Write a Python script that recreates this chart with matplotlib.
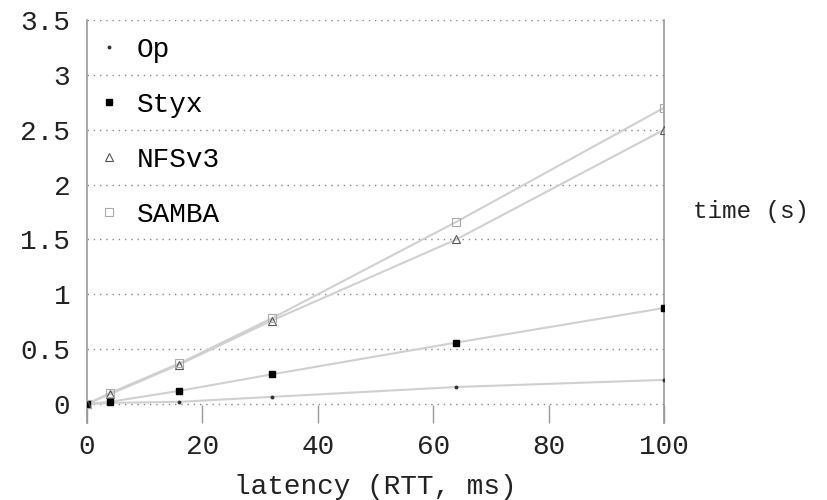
import matplotlib
matplotlib.use("Agg")
import matplotlib.pyplot as plt

plt.rcParams['font.family'] = ['Liberation Mono', 'DejaVu Sans Mono']

# latency values (RTT, ms) and measured times (s)
latency = [0, 4, 16, 32, 64, 100]
op = [0.0, 0.01, 0.02, 0.065, 0.155, 0.22]
styx = [0.0, 0.02, 0.12, 0.27, 0.56, 0.875]
nfsv3 = [0.0, 0.09, 0.36, 0.76, 1.50, 2.50]
samba = [0.0, 0.10, 0.37, 0.78, 1.66, 2.70]

yticks = [0, 0.5, 1, 1.5, 2, 2.5, 3, 3.5]
ytick_labels = ['0', '0.5', '1', '1.5', '2', '2.5', '3', '3.5']
xticks = [0, 20, 40, 60, 80, 100]

fig = plt.figure(figsize=(8.28, 5), dpi=100)
ax = fig.add_axes([0.105, 0.154, 0.697, 0.806])

# gray connecting lines
for ys in [op, styx, nfsv3, samba]:
    ax.plot(latency, ys, color='#d0d0d0', lw=1.5, zorder=2)

# markers
ax.plot(latency, op, ls='none', marker='o', ms=1.8, color='#333333', label='Op', zorder=3)
ax.plot(latency, styx, ls='none', marker='s', ms=5, color='black', label='Styx', zorder=3)
ax.plot(latency, nfsv3, ls='none', marker='^', ms=5.5, mfc='none', mec='#555555', mew=0.8,
        label='NFSv3', zorder=3)
ax.plot(latency, samba, ls='none', marker='s', ms=5.5, mfc='none', mec='#aaaaaa', mew=0.8,
        label='SAMBA', zorder=3)

ax.set_xlim(0, 100)
ax.set_ylim(-0.173, 3.5)
ax.set_yticks(yticks)
ax.set_yticklabels(ytick_labels)
ax.set_xticks(xticks)

for y in yticks:
    ax.axhline(y, color='#888888', lw=1, ls=(0, (1, 3.5)), zorder=1)

for side in ['top', 'bottom']:
    ax.spines[side].set_visible(False)
for side in ['left', 'right']:
    ax.spines[side].set_color('#999999')
    ax.spines[side].set_linewidth(1.2)

ax.tick_params(axis='y', length=0, pad=12, labelsize=20, colors='#222222')
ax.tick_params(axis='x', direction='in', length=13, width=1, color='#999999',
               pad=8, labelsize=20, labelcolor='#222222')

ax.set_xlabel('latency (RTT, ms)', fontsize=20, labelpad=10, color='#222222')
ax.yaxis.set_label_position('right')
ax.set_ylabel('time (s)', fontsize=17.5, rotation=0, ha='left', va='center', color='#222222')
ax.yaxis.set_label_coords(1.05, 0.524)

ax.legend(loc='upper left', bbox_to_anchor=(-0.01, 1.0), frameon=False, fontsize=20,
          handlelength=0.8, handletextpad=0.6, labelspacing=1.05, borderaxespad=0.2)

fig.savefig('out.png', dpi=100)
